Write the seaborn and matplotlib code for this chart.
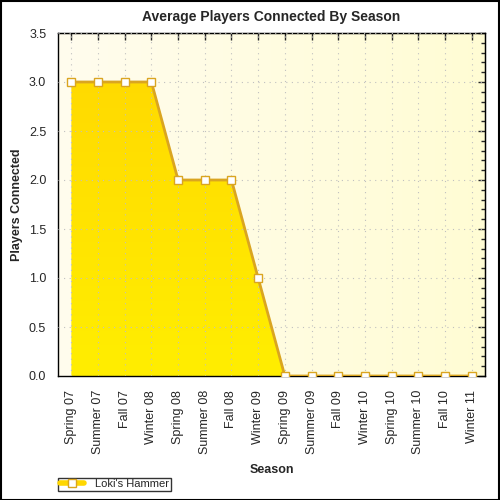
import numpy as np
import matplotlib
matplotlib.use("Agg")
from matplotlib import pyplot as plt
from matplotlib.lines import Line2D
from matplotlib.patches import Polygon
from matplotlib.ticker import MultipleLocator, FormatStrFormatter, NullFormatter
from matplotlib.colors import LinearSegmentedColormap
import seaborn as sns

seasons = ["Spring 07", "Summer 07", "Fall 07", "Winter 08", "Spring 08", "Summer 08",
           "Fall 08", "Winter 09", "Spring 09", "Summer 09", "Fall 09", "Winter 10",
           "Spring 10", "Summer 10", "Fall 10", "Winter 11"]
players = [3, 3, 3, 3, 2, 2, 2, 1, 0, 0, 0, 0, 0, 0, 0, 0]
series_name = "Loki's Hammer"

sns.set_style("white")
plt.rcParams['font.family'] = ['Liberation Sans', 'DejaVu Sans']

fig = plt.figure(figsize=(5, 5), dpi=100)
ax = fig.add_axes([0.116, 0.248, 0.854, 0.686])
xs = np.arange(len(seasons))

# pale gradient background
bg = np.linspace(0, 1, 256).reshape(1, -1)
bg_cmap = LinearSegmentedColormap.from_list("bg", ["#fffdee", "#fffcd4"])
ax.imshow(bg, cmap=bg_cmap, aspect="auto", extent=[-0.5, 15.5, 0, 3.5], zorder=0)

# gradient area fill
fill_cmap = LinearSegmentedColormap.from_list("fill", ["#ffee00", "#ffd700"])
grad = np.linspace(0, 1, 256).reshape(-1, 1)
im = ax.imshow(grad, cmap=fill_cmap, aspect="auto", origin="lower",
               extent=[-0.5, 15.5, 0, 3.5], zorder=1)
verts = [(xs[0], 0)] + list(zip(xs, players)) + [(xs[-1], 0)]
poly = Polygon(verts, closed=True, facecolor="none", edgecolor="none")
ax.add_patch(poly)
im.set_clip_path(poly)

sns.lineplot(x=xs, y=players, ax=ax, color="#daa520", linewidth=2, marker="s",
             markersize=6, markerfacecolor="white", markeredgecolor="#daa520",
             markeredgewidth=1, zorder=3)

ax.set_xlim(-0.5, 15.5)
ax.set_ylim(0, 3.5)
ax.set_xticks(xs)
ax.set_xticklabels(seasons, rotation=90, fontsize=9)
ax.yaxis.set_major_locator(MultipleLocator(0.5))
ax.yaxis.set_minor_locator(MultipleLocator(0.1))
ax.yaxis.set_major_formatter(FormatStrFormatter("%.1f"))
ax.tick_params(axis="y", labelsize=9)
ax.tick_params(axis="both", which="both", direction="out", color="black", width=1)
ax.tick_params(axis="both", which="major", length=5)
ax.tick_params(axis="y", which="minor", length=3)
ax.tick_params(axis="x", pad=5)
ax.grid(True, which="major", linestyle=(0, (1, 4)), color="#c0c0c0", linewidth=0.8, zorder=2)
ax.set_axisbelow(False)
for s in ax.spines.values():
    s.set_color("black")
    s.set_linewidth(1)

# inward ticks on top and right
top = ax.secondary_xaxis("top")
top.set_xticks(xs)
top.xaxis.set_major_formatter(NullFormatter())
top.tick_params(direction="in", length=5, width=1)
right = ax.secondary_yaxis("right")
right.yaxis.set_major_locator(MultipleLocator(0.5))
right.yaxis.set_minor_locator(MultipleLocator(0.1))
right.yaxis.set_major_formatter(NullFormatter())
right.tick_params(which="both", direction="in", width=1)
right.tick_params(which="major", length=5)
right.tick_params(which="minor", length=3)

ax.set_title("Average Players Connected By Season", fontsize=10, fontweight="bold", pad=9)
ax.set_xlabel("Season", fontsize=9, fontweight="bold", labelpad=7)
ax.set_ylabel("Players Connected", fontsize=9, fontweight="bold", labelpad=4)

handle = Line2D([], [], color="#ffd700", linewidth=4, marker="s", markersize=6,
                markerfacecolor="white", markeredgecolor="#daa520")
leg = fig.legend([handle], [series_name], loc="lower left", bbox_to_anchor=(0.116, 0.018),
                 fontsize=8, frameon=True, fancybox=False, borderpad=0.15,
                 handlelength=2.2, handletextpad=1.0, borderaxespad=0)
leg.get_frame().set_edgecolor("black")
leg.get_frame().set_linewidth(1)

fig.patches.append(plt.Rectangle((0.001, 0.001), 0.997, 0.997, transform=fig.transFigure,
                                 fill=False, edgecolor="black", linewidth=1.5))

fig.savefig("out.png", dpi=100)
